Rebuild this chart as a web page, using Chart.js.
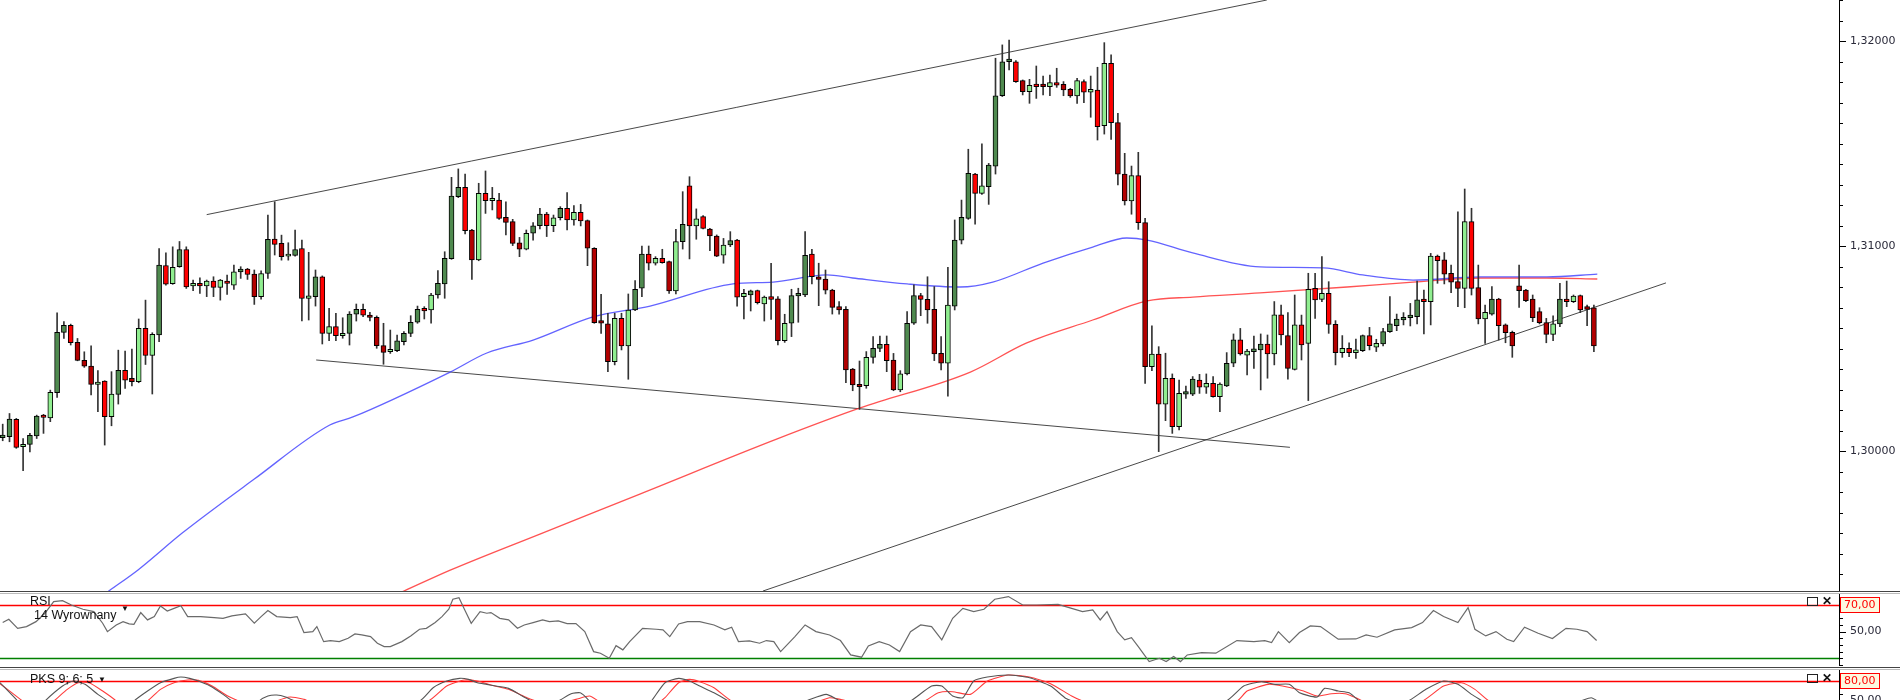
<!DOCTYPE html>
<html>
<head>
<meta charset="utf-8">
<script src="https://cdn.jsdelivr.net/npm/chart.js@4.4.1/dist/chart.umd.min.js"></script>
<style>
  html, body { margin: 0; padding: 0; background: #fff; overflow: hidden; }
  #wrap { position: relative; width: 1900px; height: 700px; overflow: hidden; font-family: "Liberation Sans", Arial, sans-serif; }
  #wrap canvas { position: absolute; left: 0; }
  .sep { position: absolute; left: 0; width: 1900px; height: 1px; }
  .lbl { position: absolute; font-size: 12.5px; color: #111; white-space: pre; line-height: 12px; }
  .sq { position: absolute; width: 9px; height: 7px; border: 1.5px solid #222; }
  .x { position: absolute; font-size: 12px; font-weight: bold; color: #111; line-height: 12px; }
</style>
</head>
<body>
<div id="wrap">
  <canvas id="main" width="1900" height="591" style="top:0"></canvas>
  <canvas id="rsi" width="1900" height="73" style="top:593px"></canvas>
  <canvas id="stoch" width="1900" height="65" style="top:669px"></canvas>
  <div class="sep" style="top:591px;background:#444"></div>
  <div class="sep" style="top:593px;background:#bbb"></div>
  <div class="sep" style="top:667px;background:#444"></div>
  <div class="sep" style="top:669px;background:#bbb"></div>
  <div class="lbl" style="left:30px;top:595px">RSI</div>
  <div class="lbl" style="left:34px;top:609px">14 Wyrownany</div>
  <div class="lbl" style="left:121px;top:603px;font-size:8px">&#9660;</div>
  <div class="lbl" style="left:30px;top:673px">PKS 9; 6; 5</div>
  <div class="lbl" style="left:98px;top:674px;font-size:8px">&#9660;</div>
  <div class="sq" style="left:1807px;top:597px"></div>
  <div class="x" style="left:1822px;top:595px">&#10005;</div>
  <div class="sq" style="left:1807px;top:674px"></div>
  <div class="x" style="left:1822px;top:672px">&#10005;</div>
</div>
<script>
// candles (one per bar, left to right)
const opens = [1.30065,1.30070,1.30154,1.30021,1.30032,1.30074,1.30175,1.30161,1.30284,1.30579,
1.30613,1.30530,1.30442,1.30414,1.30325,1.30341,1.30167,1.30276,1.30393,1.30354,
1.30338,1.30598,1.30466,1.30566,1.30905,1.30816,1.30899,1.30983,1.30805,1.30818,
1.30805,1.30829,1.30798,1.30829,1.30809,1.30873,1.30887,1.30863,1.30753,1.30866,
1.31034,1.31013,1.30951,1.30954,1.30988,1.30744,1.30753,1.30850,1.30574,1.30607,
1.30563,1.30574,1.30668,1.30691,1.30663,1.30652,1.30514,1.30485,1.30489,1.30533,
1.30574,1.30628,1.30696,1.30688,1.30761,1.30815,1.30938,1.31241,1.31286,1.31078,
1.30932,1.31257,1.31221,1.31224,1.31140,1.31119,1.31016,1.30984,1.31062,1.31099,
1.31156,1.31099,1.31138,1.31184,1.31127,1.31164,1.31124,1.30989,1.30636,1.30620,
1.30436,1.30647,1.30512,1.30688,1.30794,1.30961,1.30916,1.30940,1.30924,1.30781,
1.31021,1.31293,1.31098,1.31143,1.31083,1.31049,1.30955,1.31005,1.31029,1.30753,
1.30761,1.30782,1.30717,1.30753,1.30742,1.30538,1.30623,1.30756,1.30761,1.30961,
1.30850,1.30839,1.30785,1.30704,1.30691,1.30400,1.30325,1.30319,1.30457,1.30501,
1.30520,1.30444,1.30298,1.30376,1.30623,1.30758,1.30740,1.30691,1.30476,1.30428,
1.30707,1.31029,1.31135,1.31351,1.31257,1.31290,1.31390,1.31733,1.31899,1.31899,
1.31807,1.31753,1.31790,1.31790,1.31777,1.31797,1.31789,1.31764,1.31732,1.31802,
1.31750,1.31761,1.31587,1.31891,1.31602,1.31351,1.31220,1.31343,1.31114,1.30411,
1.30473,1.30229,1.30355,1.30119,1.30277,1.30277,1.30346,1.30311,1.30330,1.30265,
1.30317,1.30428,1.30542,1.30468,1.30485,1.30493,1.30522,1.30473,1.30664,1.30563,
1.30398,1.30615,1.30525,1.30793,1.30740,1.30769,1.30618,1.30480,1.30501,1.30480,
1.30489,1.30563,1.30506,1.30522,1.30582,1.30611,1.30639,1.30650,1.30655,1.30741,
1.30728,1.30951,1.30932,1.30867,1.30826,1.30793,1.31119,1.30797,1.30644,1.30667,
1.30741,1.30615,1.30579,1.30806,1.30785,1.30741,1.30680,1.30626,1.30569,1.30620,
1.30741,1.30728,1.30758,1.30704,1.30699];

const highs = [1.30131,1.30183,1.30159,1.30061,1.30086,1.30175,1.30179,1.30297,1.30674,1.30631,
1.30619,1.30549,1.30484,1.30513,1.30392,1.30343,1.30387,1.30492,1.30487,1.30497,
1.30644,1.30736,1.30577,1.30988,1.30967,1.30996,1.31022,1.30996,1.30834,1.30845,
1.30834,1.30850,1.30837,1.30858,1.30907,1.30899,1.30891,1.30883,1.30879,1.31151,
1.31216,1.31053,1.31016,1.31078,1.31029,1.30969,1.30883,1.30854,1.30696,1.30672,
1.30650,1.30680,1.30717,1.30717,1.30676,1.30659,1.30623,1.30590,1.30566,1.30582,
1.30660,1.30707,1.30704,1.30769,1.30880,1.30972,1.31335,1.31376,1.31351,1.31081,
1.31306,1.31366,1.31286,1.31257,1.31216,1.31130,1.31042,1.31078,1.31114,1.31184,
1.31164,1.31151,1.31192,1.31260,1.31197,1.31203,1.31127,1.30992,1.30764,1.30672,
1.30672,1.30672,1.30766,1.30831,1.31000,1.31000,1.30948,1.30984,1.30927,1.31081,
1.31265,1.31338,1.31181,1.31148,1.31086,1.31054,1.31037,1.31070,1.31033,1.30789,
1.30785,1.30785,1.30756,1.30916,1.30753,1.30667,1.30789,1.30794,1.31070,1.30984,
1.30916,1.30883,1.30789,1.30729,1.30704,1.30403,1.30439,1.30485,1.30558,1.30561,
1.30561,1.30476,1.30392,1.30680,1.30810,1.30769,1.30850,1.30802,1.30558,1.30896,
1.31127,1.31224,1.31472,1.31355,1.31498,1.31403,1.31916,1.31981,1.32005,1.31904,
1.31810,1.31813,1.31878,1.31829,1.31834,1.31867,1.31802,1.31769,1.31818,1.31810,
1.31829,1.31872,1.31992,1.31932,1.31647,1.31452,1.31390,1.31457,1.31135,1.30610,
1.30509,1.30477,1.30376,1.30346,1.30317,1.30363,1.30374,1.30376,1.30363,1.30333,
1.30480,1.30571,1.30598,1.30496,1.30561,1.30571,1.30566,1.30729,1.30712,1.30675,
1.30761,1.30663,1.30867,1.30867,1.30948,1.30826,1.30636,1.30563,1.30528,1.30546,
1.30566,1.30603,1.30545,1.30598,1.30753,1.30668,1.30675,1.30720,1.30829,1.30785,
1.30964,1.30956,1.30968,1.30907,1.31167,1.31278,1.31184,1.30907,1.30712,1.30802,
1.30745,1.30620,1.30585,1.30907,1.30789,1.30761,1.30699,1.30647,1.30659,1.30818,
1.30829,1.30761,1.30761,1.30712,1.30712];

const lows = [1.30050,1.30045,1.30013,1.29904,1.29996,1.30061,1.30086,1.30143,1.30261,1.30549,
1.30517,1.30440,1.30408,1.30273,1.30192,1.30029,1.30123,1.30229,1.30305,1.30317,
1.30333,1.30422,1.30278,1.30533,1.30809,1.30813,1.30896,1.30793,1.30782,1.30769,
1.30753,1.30753,1.30736,1.30764,1.30788,1.30842,1.30837,1.30715,1.30741,1.30842,
1.30956,1.30931,1.30931,1.30951,1.30635,1.30639,1.30707,1.30522,1.30538,1.30538,
1.30550,1.30517,1.30634,1.30655,1.30634,1.30501,1.30423,1.30476,1.30485,1.30517,
1.30558,1.30623,1.30644,1.30623,1.30745,1.30745,1.30935,1.31236,1.31059,1.30837,
1.30928,1.31159,1.31176,1.31130,1.31054,1.31002,1.30948,1.30981,1.31029,1.31083,
1.31046,1.31070,1.31127,1.31078,1.31102,1.31098,1.30904,1.30623,1.30574,1.30387,
1.30420,1.30493,1.30350,1.30685,1.30753,1.30883,1.30907,1.30916,1.30769,1.30766,
1.30985,1.30937,1.31033,1.31083,1.30977,1.30948,1.30916,1.30997,1.30707,1.30644,
1.30683,1.30717,1.30634,1.30642,1.30517,1.30530,1.30558,1.30628,1.30753,1.30815,
1.30709,1.30766,1.30668,1.30668,1.30333,1.30294,1.30203,1.30306,1.30428,1.30485,
1.30387,1.30294,1.30289,1.30371,1.30618,1.30660,1.30623,1.30441,1.30395,1.30268,
1.30688,1.31010,1.31130,1.31107,1.31252,1.31203,1.31351,1.31729,1.31859,1.31798,
1.31737,1.31696,1.31720,1.31737,1.31733,1.31774,1.31733,1.31725,1.31696,1.31699,
1.31628,1.31517,1.31546,1.31520,1.31298,1.31200,1.31155,1.31081,1.30330,1.30392,
1.29997,1.30148,1.30086,1.30103,1.30257,1.30270,1.30281,1.30281,1.30262,1.30192,
1.30314,1.30411,1.30468,1.30371,1.30403,1.30298,1.30355,1.30420,1.30517,1.30351,
1.30395,1.30444,1.30246,1.30647,1.30728,1.30574,1.30420,1.30457,1.30460,1.30452,
1.30485,1.30493,1.30485,1.30512,1.30579,1.30587,1.30615,1.30610,1.30620,1.30571,
1.30615,1.30818,1.30815,1.30772,1.30704,1.30699,1.30761,1.30620,1.30525,1.30663,
1.30541,1.30528,1.30457,1.30701,1.30728,1.30631,1.30620,1.30528,1.30538,1.30607,
1.30704,1.30724,1.30675,1.30611,1.30485];

const closes = [1.30078,1.30156,1.30018,1.30032,1.30076,1.30170,1.30164,1.30286,1.30579,1.30613,
1.30528,1.30442,1.30414,1.30325,1.30336,1.30167,1.30278,1.30393,1.30346,1.30338,
1.30598,1.30466,1.30569,1.30907,1.30814,1.30896,1.30983,1.30801,1.30818,1.30805,
1.30829,1.30798,1.30834,1.30818,1.30874,1.30887,1.30861,1.30753,1.30866,1.31032,
1.31008,1.30948,1.30961,1.30983,1.30744,1.30757,1.30850,1.30574,1.30607,1.30563,
1.30574,1.30668,1.30691,1.30662,1.30652,1.30514,1.30481,1.30496,1.30537,1.30574,
1.30628,1.30691,1.30683,1.30761,1.30818,1.30940,1.31244,1.31286,1.31075,1.30932,
1.31257,1.31221,1.31233,1.31135,1.31115,1.31013,1.30984,1.31062,1.31099,1.31156,
1.31099,1.31138,1.31184,1.31127,1.31164,1.31122,1.30989,1.30626,1.30623,1.30436,
1.30647,1.30512,1.30688,1.30789,1.30961,1.30916,1.30940,1.30919,1.30781,1.31021,
1.31106,1.31098,1.31132,1.31086,1.31049,1.30951,1.31005,1.31026,1.30750,1.30769,
1.30781,1.30724,1.30751,1.30740,1.30538,1.30623,1.30758,1.30769,1.30955,1.30850,
1.30837,1.30785,1.30701,1.30688,1.30395,1.30322,1.30314,1.30457,1.30501,1.30520,
1.30441,1.30298,1.30376,1.30623,1.30758,1.30740,1.30688,1.30473,1.30428,1.30712,
1.31029,1.31140,1.31355,1.31257,1.31293,1.31395,1.31733,1.31899,1.31912,1.31802,
1.31753,1.31784,1.31777,1.31777,1.31797,1.31785,1.31761,1.31732,1.31807,1.31750,
1.31764,1.31582,1.31891,1.31602,1.31351,1.31220,1.31343,1.31114,1.30411,1.30473,
1.30229,1.30355,1.30119,1.30281,1.30290,1.30351,1.30311,1.30330,1.30265,1.30327,
1.30428,1.30542,1.30473,1.30488,1.30499,1.30522,1.30473,1.30664,1.30566,1.30403,
1.30615,1.30517,1.30789,1.30737,1.30769,1.30618,1.30480,1.30501,1.30480,1.30493,
1.30563,1.30514,1.30525,1.30582,1.30620,1.30644,1.30652,1.30663,1.30737,1.30728,
1.30951,1.30928,1.30863,1.30823,1.30793,1.31119,1.30793,1.30644,1.30676,1.30741,
1.30611,1.30577,1.30512,1.30782,1.30733,1.30650,1.30626,1.30569,1.30620,1.30741,
1.30728,1.30756,1.30688,1.30691,1.30512];

// moving averages, read at bar positions
const blueMaX = [12.8, 15.6, 19.9, 26.4, 37.0, 48.1, 51.5, 65.8, 71.2, 78.0, 86.8, 95.2, 107.4, 113.3, 121.2, 125.0, 133.0, 140.8, 145.6, 153.0, 160.3, 165.3, 168.3, 175.0, 184.9, 194.2, 200.0, 207.4, 217.3, 227.1, 234.5];
const blueMaY = [1.29249, 1.29317, 1.29420, 1.29600, 1.29863, 1.30127, 1.30166, 1.30385, 1.30478, 1.30541, 1.30654, 1.30707, 1.30815, 1.30824, 1.30859, 1.30844, 1.30815, 1.30800, 1.30824, 1.30917, 1.30995, 1.31039, 1.31029, 1.30966, 1.30898, 1.30893, 1.30859, 1.30834, 1.30849, 1.30849, 1.30863];
const redMaX = [54.0, 59.0, 65.9, 79.0, 93.7, 113.9, 126.1, 142.3, 150.6, 160.3, 168.3, 175.0, 184.9, 197.7, 207.4, 217.3, 227.1, 234.5];
const redMaY = [1.29244, 1.29317, 1.29420, 1.29595, 1.29790, 1.30059, 1.30210, 1.30385, 1.30527, 1.30639, 1.30732, 1.30751, 1.30771, 1.30800, 1.30824, 1.30844, 1.30844, 1.30839];

// hand-drawn trend lines: [start bar, end bar] and [start price, end price]
const upperLineX = [30.0, 185.9];
const upperLineY = [1.31153, 1.32200];
const lowerLineX = [46.1, 189.3];
const lowerLineY = [1.30444, 1.30018];
const supportLineX = [111.8, 244.6];
const supportLineY = [1.29317, 1.30820];

// RSI 14 (smoothed)
const rsiX = [0, 0.9, 2.2, 3.5, 4.9, 6.2, 7.5, 8.8, 10.1, 11.8, 13.4, 14.7, 15.4, 16.7, 17.7, 18.6, 19.3, 20.3, 21.3, 22.3, 23.2, 24.2, 25.2, 26.2, 27.2, 29.1, 31.1, 32.4, 33.7, 35.7, 37.0, 38.0, 39.0, 40.3, 42.3, 43.3, 44.3, 45.6, 46.2, 47.2, 48.2, 49.5, 50.8, 51.8, 52.8, 54.1, 55.1, 56.1, 57.0, 58.7, 60.0, 61.3, 62.3, 63.6, 64.6, 65.6, 66.2, 67.1, 67.9, 68.9, 70.2, 71.2, 71.8, 73.1, 74.4, 75.7, 76.7, 78.0, 79.4, 80.4, 81.7, 83.0, 84.3, 85.6, 86.9, 87.9, 89.2, 90.2, 91.2, 92.2, 94.1, 96.1, 97.1, 98.1, 99.4, 100.7, 102.5,
  104.6, 106.2, 107.2, 108.2, 109.8, 111.3, 112.3, 113.4, 114.4, 116.5, 118.0, 119.6, 121.6, 123.2, 124.7, 126.3, 127.3, 128.9, 130.4, 131.9, 133.5, 135.0, 136.6, 138.1, 139.7, 141.2, 142.8, 144.3, 145.9, 147.9, 150.0, 152.1, 155.2, 157.2, 158.8, 160.3, 161.4, 162.4, 163.9, 165.0, 166.0, 167.0, 168.6, 170.1, 171.1, 172.2, 173.2, 174.2, 176.3, 178.4, 181.5, 184.0, 185.6, 186.6, 187.6, 189.2, 190.7, 192.3, 193.8, 196.4, 199.0, 200.5, 202.1, 204.7, 207.2, 208.8, 210.4, 211.9, 214.0, 215.5, 216.5, 218.1, 219.6, 221.2, 222.2, 223.8, 225.8, 227.9, 229.9, 231.5, 233.0, 234.4];
const rsiY = [56.8, 59.3, 52.5, 53.8, 57.5, 63.8, 72.5, 73.3, 70.0, 66.8, 65.0, 56.3, 50.0, 55.0, 57.5, 55.8, 55.5, 64.3, 58.8, 61.3, 69.3, 65.5, 67.5, 69.5, 61.3, 61.3, 60.5, 60.0, 61.8, 63.3, 56.3, 61.3, 65.8, 61.3, 60.5, 61.3, 49.3, 50.0, 53.8, 42.5, 43.3, 42.5, 45.0, 48.3, 47.5, 46.3, 41.3, 38.8, 38.8, 42.5, 46.8, 51.8, 52.5, 56.8, 61.3, 66.8, 74.3, 75.5, 66.8, 56.3, 65.0, 63.8, 64.3, 60.0, 58.8, 52.5, 55.0, 56.8, 58.8, 57.5, 58.0, 56.0, 56.0, 50.0, 35.0, 33.8, 30.0, 39.5, 36.3, 42.5, 52.5, 51.8, 51.3, 46.3, 55.8, 57.5, 57.5,
  55.0, 51.3, 53.3, 42.5, 43.0, 41.3, 43.3, 42.5, 35.0, 46.3, 55.0, 50.0, 47.5, 43.3, 32.5, 30.8, 39.3, 42.5, 40.0, 35.0, 50.0, 55.0, 53.8, 43.8, 60.0, 67.5, 65.0, 66.8, 74.3, 76.3, 70.0, 70.0, 70.5, 67.5, 65.0, 66.3, 58.8, 65.0, 50.0, 43.8, 45.5, 38.8, 27.5, 30.0, 27.5, 31.3, 27.5, 32.5, 34.3, 33.8, 43.3, 42.5, 43.3, 41.8, 50.0, 41.8, 49.3, 54.3, 53.8, 44.3, 44.5, 47.5, 45.8, 51.3, 53.0, 56.8, 65.8, 61.3, 56.8, 68.0, 51.8, 46.8, 50.0, 44.3, 42.5, 53.3, 48.8, 44.8, 52.5, 51.8, 50.0, 43.3];

// stochastic 9;6;5 (%K and %D)
const stochKX = [-0.4, 2.2, 4, 6.2, 8.8, 10.4, 12.1, 14.0, 15.4, 17, 19.3, 21.3, 23.2, 25.2, 26.2, 27.5, 28.8, 30.5, 32.4, 33.7, 36, 37.7, 39.0, 40.3, 41.6, 42.9, 50, 61.3, 63.3, 65.3, 67.2, 68.5, 69.8, 71.2, 72.5, 74.4, 76.4, 77.7, 79, 81.7, 83.6, 84.9, 85.6, 86.3, 92, 95.4, 97.4, 99.4, 101.0, 102.5, 104.6, 106.7, 110, 118.0, 121.1, 122.7, 123.2, 126, 133.5, 136.6, 138.1, 139.7, 141.2, 142.8, 144.8, 147.9, 151.0, 154.1, 156.2, 157.2, 165, 179.9, 182.5, 185.1, 187.1, 189.2, 190.7, 193.3, 194.4, 196.4, 198.0, 199.5, 202, 206.7, 209.3, 211.9, 214.0, 216.0, 217.6, 222, 232.0, 233.6, 234.4];
const stochKY = [77.4, 49.2, 25, 49.2, 72.3, 80.0, 74.9, 59.5, 49.2, 25, 49.2, 64.6, 77.4, 84.1, 86.1, 84.1, 80.0, 72.3, 59.5, 49.2, 30, 49.2, 56.9, 58.4, 55.4, 49.2, 15, 49.2, 69.7, 80.0, 84.1, 82.5, 77.4, 74.9, 72.3, 68.7, 56.9, 49.2, 38, 49.2, 60.5, 62.0, 56.9, 49.2, 10, 49.2, 77.4, 84.1, 80.0, 72.3, 62.0, 49.2, 25, 49.2, 59.5, 51.8, 49.2, 10, 49.2, 72.3, 72.3, 56.9, 54.3, 80.0, 86.1, 89.2, 85.1, 72.3, 54.3, 49.2, 10, 49.2, 72.3, 79.0, 74.9, 74.9, 62.0, 55.4, 68.7, 64.6, 62.0, 49.2, 30, 49.2, 67.2, 80.0, 74.9, 59.5, 49.2, 20, 49.2, 54.3, 50.2];
const stochDX = [-0.4, 2.9, 5, 7.5, 9.5, 11.1, 12.7, 14.7, 16.7, 18.5, 21.3, 23.2, 25.2, 27.2, 28.8, 30.8, 33.1, 34.7, 37.5, 40.3, 42.3, 44.3, 44.9, 52, 62.6, 65.3, 67.9, 69.8, 71.8, 74.4, 77.1, 78.4, 80.5, 83.3, 84.3, 86.3, 87.6, 93, 96.8, 97.4, 99.4, 101.0, 102.5, 104.6, 107.2, 113, 120.1, 121.6, 123.2, 124.2, 129, 135.6, 137.6, 139.7, 142.3, 144.8, 147.9, 151.0, 154.1, 157.2, 158.8, 168, 181.5, 183.0, 186.1, 188.2, 191.3, 193.3, 195.4, 197.4, 199.0, 200.0, 204, 208.8, 211.9, 214.5, 216.5, 218.6, 225, 234.4];
const stochDY = [75.9, 49.2, 30, 49.2, 67.2, 77.4, 77.4, 64.6, 49.2, 30, 49.2, 67.2, 77.4, 81.5, 81.0, 72.3, 56.9, 49.2, 35, 49.2, 55.4, 51.8, 49.2, 20, 49.2, 72.3, 81.5, 80.0, 73.8, 67.2, 54.3, 49.2, 42, 49.2, 51.8, 56.9, 49.2, 15, 49.2, 54.3, 77.4, 82.5, 79.0, 69.7, 49.2, 25, 49.2, 54.3, 51.8, 49.2, 15, 49.2, 62.0, 63.6, 59.5, 80.0, 89.2, 86.1, 75.9, 56.9, 49.2, 15, 49.2, 64.6, 74.9, 72.3, 64.6, 56.9, 60.5, 60.5, 54.3, 49.2, 35, 49.2, 72.3, 77.4, 67.2, 49.2, 25, 42];

// axis labels and level lines
const priceLabels = [1.30, 1.31, 1.32];
const rsiLabels = [50];
const rsiLevels = [70, 30];
const stochLabels = [50];
const stochLevels = [80, 20];

// layout constants (pixels)
const AXIS_X = 1839;
const BAR_STEP = 6.8;
const FIRST_BAR = 2.7;
const X_MIN = -FIRST_BAR / BAR_STEP;
const X_MAX = (AXIS_X - FIRST_BAR) / BAR_STEP;

const fmt = (v, d) => v.toFixed(d).replace('.', ',');
const pts = (xs, ys) => xs.map((x, i) => ({ x: x, y: ys[i] }));

const xScale = { type: 'linear', min: X_MIN, max: X_MAX, display: false, offset: false };

function rightAxis(min, max, tickValues, labelSet, digits) {
  return {
    position: 'right',
    min: min,
    max: max,
    afterBuildTicks: (s) => { s.ticks = tickValues.map(v => ({ value: v })); },
    afterFit: (s) => { s.width = 1900 - AXIS_X; s.paddingTop = 0; s.paddingBottom = 0; },
    grid: { drawOnChartArea: false, drawTicks: false },
    border: { display: true, color: '#000', width: 1 },
    ticks: {
      autoSkip: false,
      padding: 11,
      color: '#2a2a3a',
      font: { family: 'DejaVu Sans', size: 11 },
      callback: (v) => labelSet.some(l => Math.abs(l - v) < 1e-7) ? fmt(v, digits) : ''
    }
  };
}

// draws tick marks, level lines and boxed labels
const panelDecor = {
  id: 'panelDecor',
  beforeDatasetsDraw(chart, args, opts) {
    const { ctx, chartArea: a } = chart;
    const y = chart.scales.y;
    (opts.levels || []).forEach(l => {
      const py = Math.round(y.getPixelForValue(l.value)) + 0.5;
      ctx.save();
      ctx.strokeStyle = l.color;
      ctx.lineWidth = 1.3;
      ctx.beginPath();
      ctx.moveTo(a.left, py);
      ctx.lineTo(a.right, py);
      ctx.stroke();
      ctx.restore();
    });
  },
  afterDraw(chart, args, opts) {
    const { ctx, chartArea: a } = chart;
    const y = chart.scales.y;
    ctx.save();
    ctx.strokeStyle = '#000';
    ctx.lineWidth = 1;
    y.ticks.forEach(t => {
      const py = Math.round(y.getPixelForValue(t.value)) + 0.5;
      if (py < 0 || py > chart.height) return;
      const len = t.label ? 7 : 4;
      ctx.beginPath();
      ctx.moveTo(a.right, py);
      ctx.lineTo(a.right + len, py);
      ctx.stroke();
    });
    if (opts.box != null) {
      const py = Math.round(y.getPixelForValue(opts.box));
      ctx.fillStyle = '#fdf9e0';
      ctx.fillRect(a.right + 1, py - 8, 40, 16);
      ctx.strokeStyle = '#ff0000';
      ctx.strokeRect(a.right + 1.5, py - 7.5, 39, 15);
      ctx.fillStyle = '#ff0000';
      ctx.font = '11px "DejaVu Sans"';
      ctx.textBaseline = 'middle';
      ctx.fillText(fmt(opts.box, 2), a.right + 5, py + 0.5);
    }
    ctx.restore();
  }
};

const baseOptions = {
  responsive: false,
  animation: false,
  events: [],
  layout: { padding: 0 },
  plugins: { legend: { display: false }, tooltip: { enabled: false } }
};

// candle colours follow the direction of the bar and of the bar before it
const bodyColors = closes.map((c, i) => {
  const up = c >= opens[i];
  const prevUp = i > 0 ? closes[i - 1] >= opens[i - 1] : up;
  if (up) return prevUp ? '#4f8a4f' : '#90ee90';
  return prevUp ? '#ff0000' : '#b30000';
});

const bodies = opens.map((o, i) => ({ x: i, y: [o, closes[i]] }));
const wicks = opens.map((o, i) => ({ x: i, y: [lows[i], highs[i]] }));

const priceTicks = [];
for (let k = 1294; k <= 1322; k++) priceTicks.push(k / 1000);

const trendStyle = { type: 'line', borderColor: 'rgba(40,40,40,0.85)', borderWidth: 1, pointRadius: 0, tension: 0 };

new Chart(document.getElementById('main'), {
  type: 'bar',
  data: {
    datasets: [
      { data: bodies, backgroundColor: bodyColors, borderColor: '#000', borderWidth: 1, borderSkipped: false, barThickness: 5, minBarLength: 2, grouped: false, order: 0 },
      { data: wicks, backgroundColor: '#333', borderWidth: 0, barThickness: 1, grouped: false, order: 1 },
      { type: 'line', data: pts(blueMaX, blueMaY), borderColor: 'rgba(60,60,255,0.8)', borderWidth: 1.3, pointRadius: 0, cubicInterpolationMode: 'monotone', order: 2 },
      { type: 'line', data: pts(redMaX, redMaY), borderColor: 'rgba(255,40,40,0.8)', borderWidth: 1.3, pointRadius: 0, cubicInterpolationMode: 'monotone', order: 3 },
      Object.assign({ data: pts(upperLineX, upperLineY), order: 4 }, trendStyle),
      Object.assign({ data: pts(lowerLineX, lowerLineY), order: 5 }, trendStyle),
      Object.assign({ data: pts(supportLineX, supportLineY), order: 6 }, trendStyle)
    ]
  },
  options: Object.assign({}, baseOptions, {
    scales: { x: xScale, y: rightAxis(1.293171, 1.322, priceTicks, priceLabels, 5) },
    plugins: Object.assign({}, baseOptions.plugins, { panelDecor: {} })
  }),
  plugins: [panelDecor]
});

const rsiTicks = [25, 30, 35, 40, 45, 50, 55, 60, 65, 70, 75];
new Chart(document.getElementById('rsi'), {
  type: 'line',
  data: {
    datasets: [
      { data: pts(rsiX, rsiY), borderColor: '#6a6a6a', borderWidth: 1.2, pointRadius: 0, tension: 0 }
    ]
  },
  options: Object.assign({}, baseOptions, {
    scales: { x: xScale, y: rightAxis(24.2, 79.0, rsiTicks, rsiLabels, 2) },
    plugins: Object.assign({}, baseOptions.plugins, {
      panelDecor: { levels: [{ value: rsiLevels[0], color: '#ff0000' }, { value: rsiLevels[1], color: '#008000' }], box: rsiLevels[0] }
    })
  }),
  plugins: [panelDecor]
});

const stochTicks = [50, 60, 70, 80, 90];
new Chart(document.getElementById('stoch'), {
  type: 'line',
  data: {
    datasets: [
      { data: pts(stochKX, stochKY), borderColor: '#555', borderWidth: 1.1, pointRadius: 0, tension: 0.2 },
      { data: pts(stochDX, stochDY), borderColor: '#ff3b3b', borderWidth: 1.1, pointRadius: 0, tension: 0.2 }
    ]
  },
  options: Object.assign({}, baseOptions, {
    scales: { x: xScale, y: rightAxis(-1.5, 98.5, stochTicks, stochLabels, 2) },
    plugins: Object.assign({}, baseOptions.plugins, {
      panelDecor: { levels: [{ value: stochLevels[0], color: '#ff0000' }, { value: stochLevels[1], color: '#ff0000' }], box: stochLevels[0] }
    })
  }),
  plugins: [panelDecor]
});
</script>
</body>
</html>
